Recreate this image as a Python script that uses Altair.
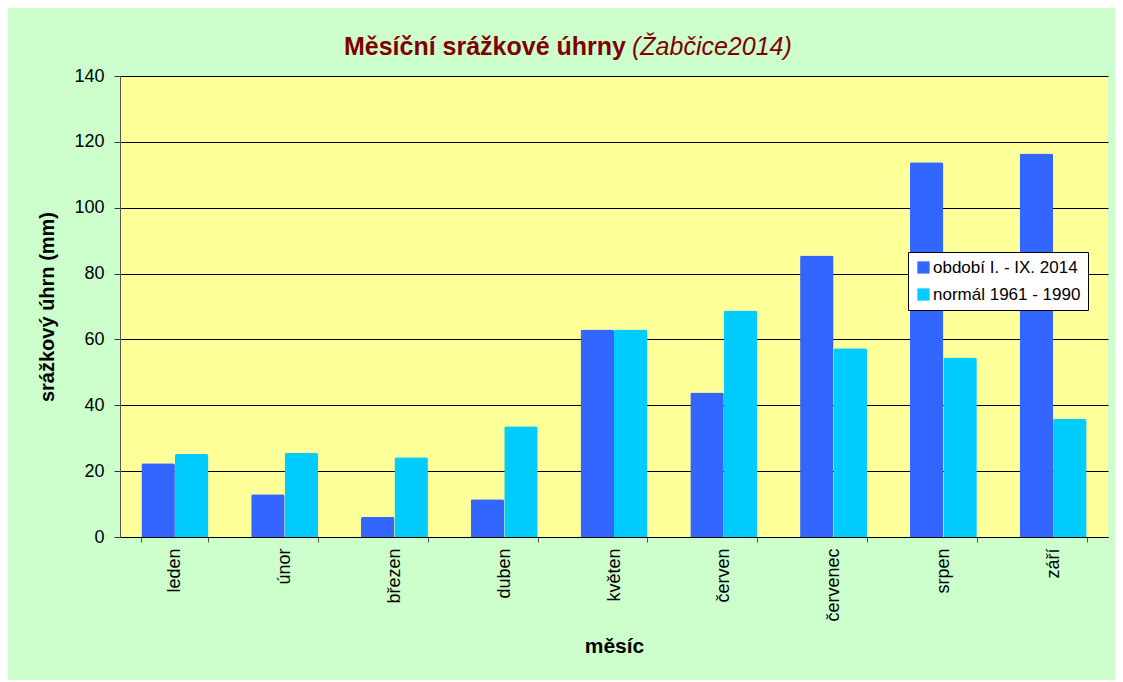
import altair as alt
import pandas as pd

months = ["leden", "únor", "březen", "duben", "květen", "červen", "červenec", "srpen", "září"]
obdobi_2014 = [22.4, 13.0, 6.1, 11.5, 63.0, 43.9, 85.5, 113.8, 116.5]
normal_6190 = [25.2, 25.5, 24.2, 33.6, 63.0, 68.8, 57.3, 54.5, 35.8]
series = ["období I. - IX. 2014", "normál 1961 - 1990"]
colors = ["#3366FF", "#00CCFF"]
y_ticks = [0, 20, 40, 60, 80, 100, 120, 140]

rows = []
for m, a, b in zip(months, obdobi_2014, normal_6190):
    rows.append({"mesic": m, "rada": series[0], "hodnota": a})
    rows.append({"mesic": m, "rada": series[1], "hodnota": b})
df = pd.DataFrame(rows)

FONT = "Liberation Sans"

bars = alt.Chart(df).mark_bar(cornerRadiusTopLeft=2, cornerRadiusTopRight=2).encode(
    x=alt.X("mesic:N", sort=months,
            scale=alt.Scale(paddingInner=0.39, paddingOuter=0.195),
            axis=alt.Axis(title="měsíc", labelAngle=270, tickBand="extent",
                          grid=False, domainColor="black", tickColor="#555555",
                          tickSize=5, labelPadding=6, labelFontSize=18,
                          labelColor="black", labelFont=FONT,
                          titleFont=FONT, titleFontSize=21, titleFontWeight="bold",
                          titleColor="black", titleY=98, titleBaseline="top")),
    xOffset=alt.XOffset("rada:N", sort=series, scale=alt.Scale(paddingInner=0)),
    y=alt.Y("hodnota:Q", scale=alt.Scale(domain=[0, 140], nice=False),
            axis=alt.Axis(title="srážkový úhrn (mm)", values=y_ticks,
                          grid=True, gridColor="black", gridWidth=1,
                          domainColor="#555555", tickColor="#333333", tickSize=6,
                          labelFontSize=18, labelColor="black", labelFont=FONT,
                          labelPadding=10,
                          titleFont=FONT, titleFontSize=20, titleFontWeight="bold",
                          titleColor="black", titlePadding=16)),
    color=alt.Color("rada:N", sort=series,
                    scale=alt.Scale(domain=series, range=colors),
                    legend=alt.Legend(title=None, orient="none", legendX=788, legendY=176,
                                      fillColor="white", strokeColor="black",
                                      padding=7, rowPadding=9,
                                      symbolType="square", symbolSize=150,
                                      symbolStrokeWidth=0, labelOffset=1,
                                      labelFontSize=17, labelFont=FONT,
                                      labelColor="black")),
)

title_df = pd.DataFrame({"t": ["Měsíční srážkové úhrny"]})
title_df2 = pd.DataFrame({"t": ["(Žabčice2014)"]})

t1 = alt.Chart(title_df).mark_text(font=FONT, fontSize=25, fontWeight="bold",
                                   color="#800000", align="right",
                                   baseline="alphabetic").encode(
    text="t:N", x=alt.value(506), y=alt.value(-21))
t2 = alt.Chart(title_df2).mark_text(font=FONT, fontSize=25, fontStyle="italic",
                                    color="#800000", align="left",
                                    baseline="alphabetic").encode(
    text="t:N", x=alt.value(512), y=alt.value(-21))

chart = alt.layer(bars, t1, t2).properties(
    width=988, height=461,
    background="#CCFFCC",
    padding={"left": 112, "top": 68, "right": 7, "bottom": 143},
    autosize=alt.AutoSizeParams(type="none"),
).configure_view(fill="#FFFF99", stroke=None)

chart.save("out.html", embed_options={"renderer": "svg", "actions": False})
